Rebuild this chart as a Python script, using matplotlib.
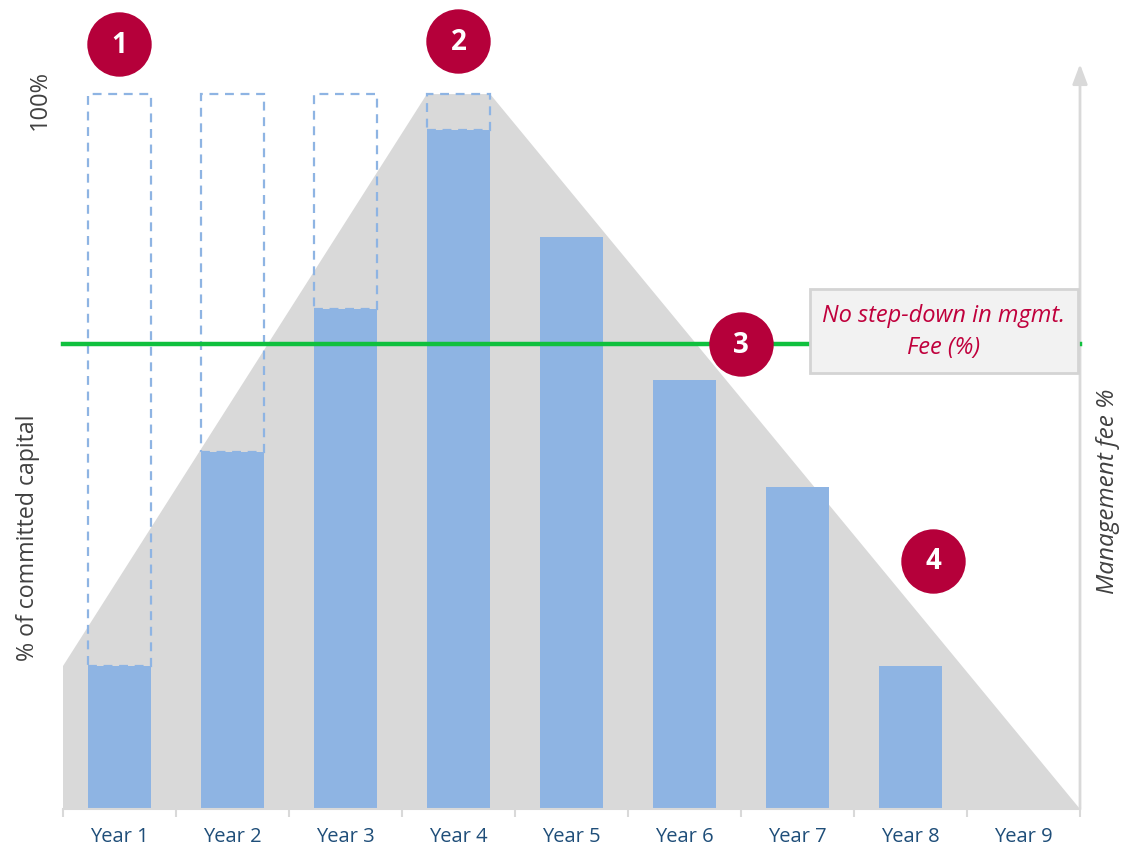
import matplotlib.pyplot as plt
from matplotlib.patches import Rectangle, Polygon

plt.rcParams['font.family'] = ['Open Sans', 'DejaVu Sans']

# --- data ---
years = ['Year 1', 'Year 2', 'Year 3', 'Year 4', 'Year 5', 'Year 6', 'Year 7', 'Year 8', 'Year 9']
invested = [20, 50, 70, 95, 80, 60, 45, 20, 0]      # % of committed capital
commitment = [100, 100, 100, 100, None, None, None, None, None]  # dashed outline up to 100%
fee_x = [-0.5, 2.72, 3.28, 8.5, -0.5]   # management fee area
fee_y = [20, 100, 100, 0, 0]
flat_fee = 65                     # no step-down line
callouts = [('1', 0, 107), ('2', 3, 107.4), ('3', 5.5, 65), ('4', 7.2, 34.7)]
note = 'No step-down in mgmt.\nFee (%)'

# --- colours ---
bar_col = '#8EB4E3'
area_col = '#D9D9D9'
green = '#10C03E'
red = '#B5003A'

fig = plt.figure(figsize=(11.29, 8.54), dpi=100)
ax = fig.add_axes([0.0558, 0.0515, 0.9008, 0.9485])
ax.set_xlim(-0.5, 8.5)
ax.set_ylim(0, 113.3)

# grey management fee area
ax.add_patch(Polygon(list(zip(fee_x, fee_y)), closed=True, facecolor=area_col,
                     edgecolor='none', zorder=1))

# bars
w = 0.56
xs = list(range(len(years)))
ax.bar(xs, invested, width=w, color=bar_col, zorder=2)

# dashed outlines showing uncalled commitment
for x, v, c in zip(xs, invested, commitment):
    if c is None:
        continue
    ax.add_patch(Rectangle((x - w / 2, v), w, c - v, fill=False, edgecolor=bar_col,
                           linestyle=(0, (4, 3)), lw=1.6, zorder=3))

# flat fee line
ax.plot([-0.5, 8.5], [flat_fee, flat_fee], color=green, lw=3.2, zorder=4, clip_on=False)

# note box
ax.add_patch(Rectangle((6.11, 61.0), 2.37, 11.7, facecolor='#F2F2F2', edgecolor='#D4D4D4',
                       lw=2, zorder=5))
ax.text(7.295, 66.85, note, ha='center', va='center', style='italic', color='#C0003C',
        fontsize=17, linespacing=1.4, zorder=6)

# numbered callouts
for lab, cx, cy in callouts:
    ax.scatter([cx], [cy], s=2150, color=red, zorder=7, clip_on=False, linewidths=0)
    ax.text(cx, cy, lab, ha='center', va='center', color='white', fontsize=20,
            fontweight='bold', zorder=8)

# right axis arrow
ax.annotate('', xy=(8.5, 104.2), xytext=(8.5, 0),
            arrowprops=dict(arrowstyle='-|>,head_width=0.45,head_length=1.2',
                            color=area_col, lw=2, shrinkA=0, shrinkB=0),
            annotation_clip=False, zorder=2)

# axes styling
for s in ['left', 'top', 'right']:
    ax.spines[s].set_visible(False)
ax.spines['bottom'].set_color(area_col)
ax.spines['bottom'].set_linewidth(1.5)
ax.set_yticks([])
ax.set_xticks(xs)
ax.set_xticklabels(years, color='#1F4E79', fontsize=14.5)
ax.set_xticks([i - 0.5 for i in range(len(years) + 1)], minor=True)
ax.tick_params(axis='x', which='major', length=0, pad=12)
ax.tick_params(axis='x', which='minor', length=6, color=area_col, width=1.5)

# labels
fig.text(0.025, 0.37, '% of committed capital', rotation=90, ha='center', va='center',
         fontsize=16.7, color='#404040')
fig.text(0.035, 0.883, '100%', rotation=90, ha='center', va='center',
         fontsize=17, color='#404040')
fig.text(0.981, 0.425, 'Management fee %', rotation=90, ha='center', va='center',
         fontsize=17.5, style='italic', color='#404040')

fig.savefig('out.png', dpi=100)
